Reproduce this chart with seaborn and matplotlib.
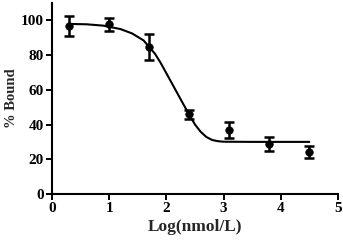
import matplotlib
matplotlib.use('Agg')
import matplotlib.pyplot as plt
import pandas as pd
import seaborn as sns

# measured points
log_conc = [0.3, 1.0, 1.7, 2.4, 3.1, 3.8, 4.5]
pct_bound = [96.7, 97.7, 84.7, 45.8, 36.8, 29.0, 24.3]
err = [5.8, 3.6, 7.5, 2.7, 4.6, 4.1, 3.4]

# fitted curve
curve_x = [0.3, 0.6, 0.9, 1.2, 1.4, 1.6, 1.8, 1.9, 2.0, 2.1, 2.2, 2.3, 2.4,
           2.5, 2.6, 2.7, 2.8, 2.9, 3.0, 3.5, 4.0, 4.5]
curve_y = [98.0, 97.8, 97.0, 95.0, 92.5, 88.5, 80.8, 75.5, 69.5, 63.5, 57.5,
           51.5, 45.6, 40.0, 35.8, 32.8, 31.1, 30.4, 30.1, 30.0, 30.0, 30.0]

x_ticks = [0, 1, 2, 3, 4, 5]
y_ticks = [0, 20, 40, 60, 80, 100]

pts = pd.DataFrame({'x': log_conc, 'y': pct_bound})
fit = pd.DataFrame({'x': curve_x, 'y': curve_y})

sns.set_theme(style='ticks')
plt.rcParams['font.family'] = ['Liberation Serif', 'DejaVu Serif']
plt.rcParams['font.weight'] = 'bold'

fig = plt.figure(figsize=(3.43, 2.40), dpi=100)
ax = fig.add_axes([0.152, 0.192, 0.833, 0.795])

sns.lineplot(data=fit, x='x', y='y', color='black', linewidth=1.5, ax=ax)
ax.errorbar(log_conc, pct_bound, yerr=err, fmt='none', ecolor='black',
            elinewidth=1.8, capsize=3.5, capthick=1.8)
sns.scatterplot(data=pts, x='x', y='y', color='black', s=30, edgecolor='black',
                zorder=5, ax=ax)

ax.set_xlim(0, 5)
ax.set_ylim(0, 110)
ax.set_xticks(x_ticks)
ax.set_yticks(y_ticks)
ax.set_xlabel('Log(nmol/L)', fontsize=12.5, fontweight='bold', labelpad=3)
ax.set_ylabel('% Bound', fontsize=10.5, fontweight='bold', labelpad=2)
ax.tick_params(axis='both', labelsize=11, width=1.4, length=4, color='black',
               labelcolor='black', pad=2)
for lab in ax.get_xticklabels() + ax.get_yticklabels():
    lab.set_fontweight('bold')
sns.despine(ax=ax)
for s in ['left', 'bottom']:
    ax.spines[s].set_linewidth(1.5)
    ax.spines[s].set_color('black')

fig.savefig('out.png', dpi=100)
